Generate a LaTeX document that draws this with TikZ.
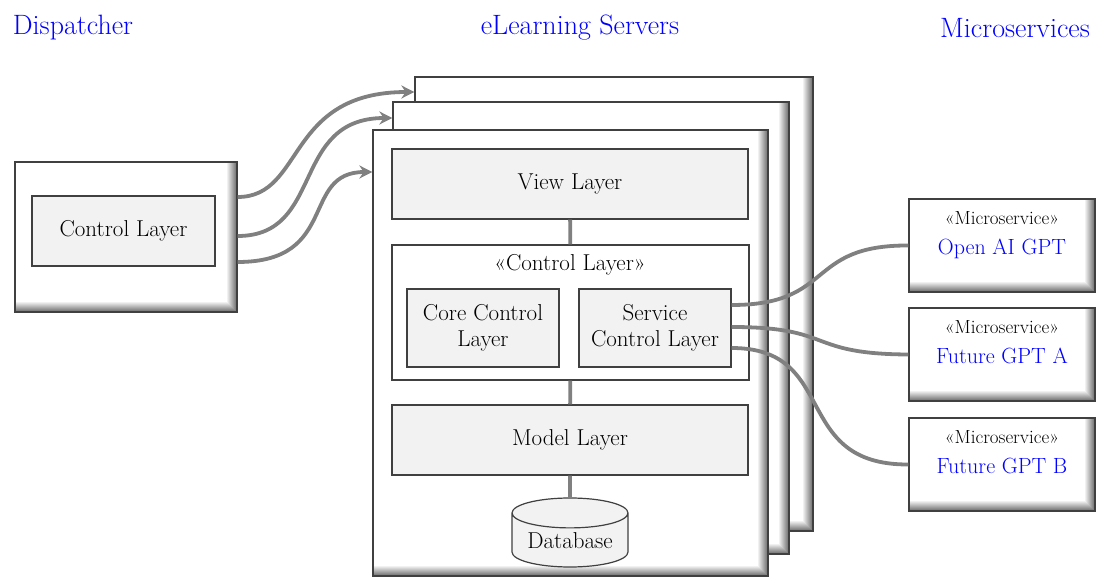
\documentclass[tikz,border=0pt]{standalone}
\usetikzlibrary{shapes.geometric, arrows.meta}

\tikzset{
  shbox/.style={draw=black!75, line width=1.2pt, fill=white, inner sep=0pt,
    path picture={
      \foreach \i in {1,...,10}{
        \pgfmathsetmacro\shd{5.5*\i}
        \fill[black!\shd] ([xshift={(\i-11)*1pt}]path picture bounding box.north east)
          rectangle (path picture bounding box.south east);
        \fill[black!\shd] ([yshift={(11-\i)*1pt}]path picture bounding box.south west)
          rectangle (path picture bounding box.south east);
      }
    }},
  layer/.style={draw=black!75, line width=1.2pt, fill=black!5, inner sep=0pt, align=center,
    font=\fontsize{23}{26}\selectfont},
  hdr/.style={text=blue, font=\fontsize{28}{32}\selectfont},
  link/.style={draw=black!50, line width=3.8pt},
  arr/.style={link, -{Stealth[length=13pt, width=13pt]}},
}

\begin{document}
\begin{tikzpicture}[x=1pt, y=-1pt]
    \useasboundingbox (0,0) rectangle (1096,577);

    \node[hdr] (hdisp) at (73,28) {Dispatcher};
    \node[hdr] (hsrv)  at (580,28) {eLearning Servers};
    \node[hdr] (hms)   at (1015,28) {Microservices};

    % dispatcher
    \node[shbox, minimum width=222pt, minimum height=150pt] (disp) at (126,237) {};
    \node[layer, minimum width=183pt, minimum height=70pt] (dctl) at (123.5,231) {Control Layer};

    % server stack
    \node[shbox, minimum width=398pt, minimum height=454pt] (srv3) at (614,304) {};
    \node[shbox, minimum width=396pt, minimum height=452pt] (srv2) at (591,328) {};
    \node[shbox, minimum width=395pt, minimum height=446pt] (srv1) at (570.5,353) {};

    \node[layer, minimum width=356pt, minimum height=70pt] (view) at (570,184) {View Layer};
    \node[layer, fill=white, minimum width=357pt, minimum height=135pt] (ctl) at (570.5,312.5) {};
    \node[font=\fontsize{23}{26}\selectfont] (ctlname) at (570,265) {«Control Layer»};
    \node[layer, minimum width=152pt, minimum height=78pt] (core) at (483,328) {Core Control\\Layer};
    \node[layer, minimum width=152pt, minimum height=78pt] (serv) at (655,328) {Service\\Control Layer};
    \node[layer, minimum width=356pt, minimum height=70pt] (model) at (570,440) {Model Layer};
    \node[layer, cylinder, shape border rotate=90, aspect=0.35, minimum width=116pt,
      minimum height=69pt, anchor=shape center] (db) at (570,532.5) {Database};

    \draw[link] (view) -- (ctl);
    \draw[link] (ctl) -- (model);
    \draw[link] (model) -- (db);

    % microservices
    \foreach \nm/\lbl/\y in {oai/Open AI GPT/245.5, gpta/Future GPT A/354.5, gptb/Future GPT B/464.5}
      \node[shbox, minimum width=186pt, minimum height=93pt, align=center,
        font=\fontsize{19}{30}\selectfont] (\nm) at (1002,\y)
        {«Microservice»\\{\fontsize{22}{30}\selectfont\color{blue}\lbl}\\[-6pt]};

    % dispatcher -> servers
    \coordinate (d1) at (disp.east |- 0,197);
    \coordinate (d2) at (disp.east |- 0,236);
    \coordinate (d3) at (disp.east |- 0,262);
    \draw[arr] (d1) .. controls (305,197) and (285,92) .. (srv3.west |- 0,92);
    \draw[arr] (d2) .. controls (325,236) and (290,118) .. (srv2.west |- 0,118);
    \draw[arr] (d3) .. controls (340,262) and (300,172) .. (srv1.west |- 0,172);

    % service control -> microservices
    \coordinate (s1) at (serv.east |- 0,305);
    \coordinate (s2) at (serv.east |- 0,327);
    \coordinate (s3) at (serv.east |- 0,348);
    \draw[link] (s1) .. controls (835,305) and (805,245) .. (oai.west);
    \draw[link] (s2) .. controls (835,327) and (805,354) .. (gpta.west);
    \draw[link] (s3) .. controls (840,348) and (790,465) .. (gptb.west);
\end{tikzpicture}
\end{document}
